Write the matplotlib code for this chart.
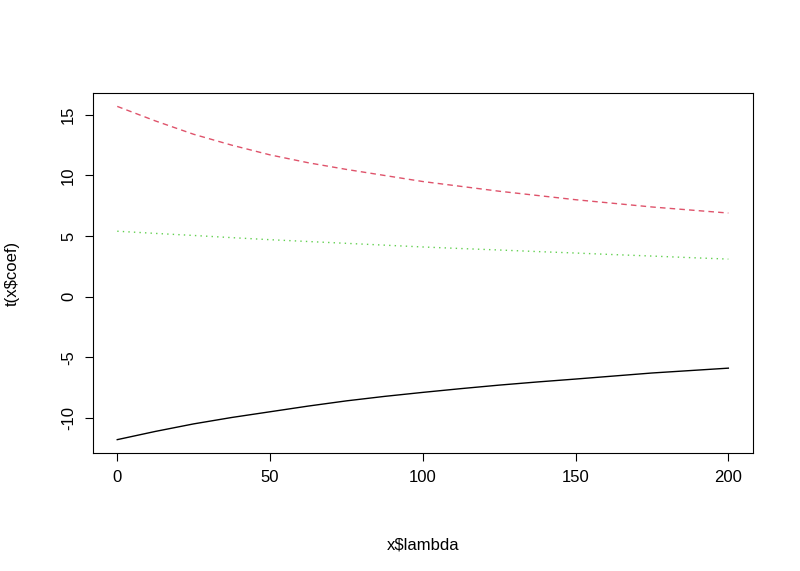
import matplotlib
matplotlib.use("Agg")
import matplotlib.pyplot as plt

plt.rcParams['font.family'] = ['Liberation Sans', 'DejaVu Sans']

lam = [0, 12.5, 25, 37.5, 50, 62.5, 75, 87.5, 100, 112.5, 125, 137.5, 150, 162.5, 175, 187.5, 200]
coef_black = [-11.8, -11.12, -10.5, -9.97, -9.5, -9.03, -8.6, -8.23, -7.9, -7.59, -7.3, -7.04, -6.8, -6.55, -6.3, -6.1, -5.9]
coef_red = [15.7, 14.5, 13.4, 12.5, 11.7, 11.05, 10.5, 10.0, 9.5, 9.1, 8.7, 8.35, 8.0, 7.7, 7.4, 7.15, 6.9]
coef_green = [5.4, 5.22, 5.05, 4.87, 4.7, 4.55, 4.4, 4.25, 4.1, 3.97, 3.85, 3.72, 3.6, 3.47, 3.35, 3.22, 3.1]
xticks = [0, 50, 100, 150, 200]
yticks = [-10, -5, 0, 5, 10, 15]

fig = plt.figure(figsize=(8, 5.71), dpi=100)
ax = fig.add_axes([0.116, 0.2067, 0.825, 0.6303])
ax.plot(lam, coef_black, color='black', lw=1, ls='-')
ax.plot(lam, coef_red, color='#DF536B', lw=1, ls=(0, (4, 3)))
ax.plot(lam, coef_green, color='#61D04F', lw=1, ls=(0, (1, 3)))
ax.set_xlim(-8, 208)
ax.set_ylim(-12.9, 16.8)
ax.set_xticks(xticks)
ax.set_yticks(yticks)
ax.set_yticklabels([str(t) for t in yticks], rotation=90, va='center')
ax.tick_params(labelsize=12, length=6, pad=6)
ax.set_xlabel(r'x\$lambda', fontsize=12, labelpad=38)
ax.set_ylabel(r't(x\$coef)', fontsize=12, labelpad=30)
for s in ax.spines.values():
    s.set_linewidth(0.8)
fig.savefig('out.png', dpi=100)
